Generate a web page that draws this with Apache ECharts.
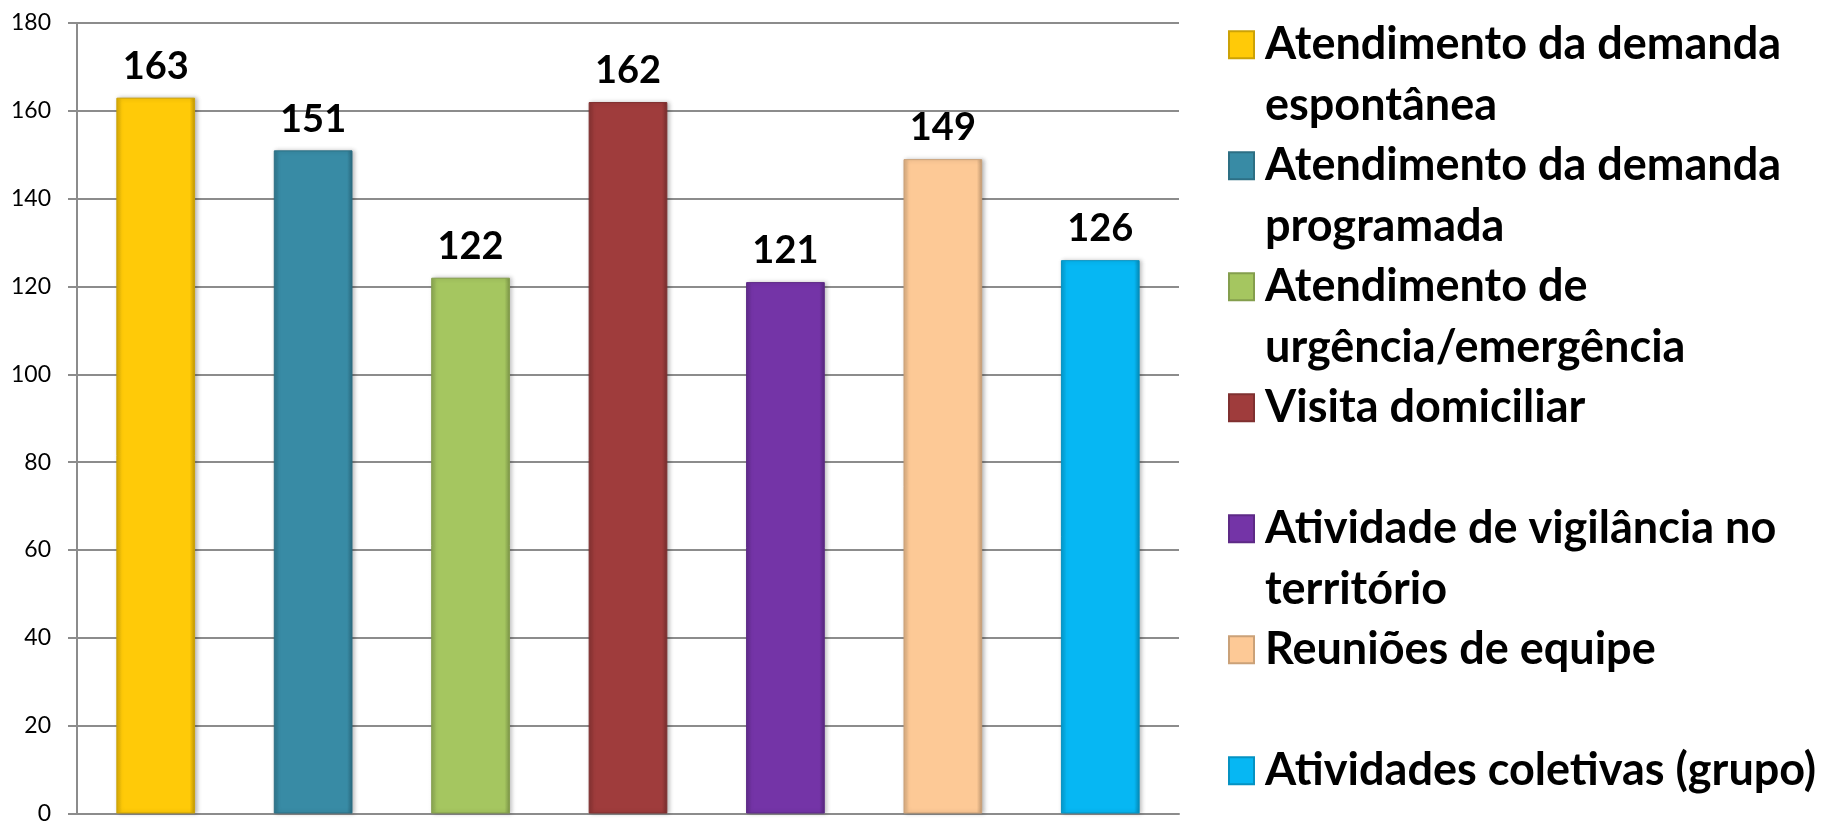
<!DOCTYPE html>
<html>
<head>
<meta charset="utf-8">
<script src="https://cdn.jsdelivr.net/npm/echarts@6/dist/echarts.min.js"></script>
<style>
html,body{margin:0;padding:0;background:#fff;}
#chart{width:1821px;height:825px;}
</style>
</head>
<body>
<div id="chart"></div>
<script>
const categories = [
  'Atendimento da demanda espontânea',
  'Atendimento da demanda programada',
  'Atendimento de urgência/emergência',
  'Visita domiciliar',
  'Atividade de vigilância no território',
  'Reuniões de equipe',
  'Atividades coletivas (grupo)'
];
// legend text as wrapped in the original (two text lines per entry)
const legendLabels = [
  'Atendimento da demanda\nespontânea',
  'Atendimento da demanda\nprogramada',
  'Atendimento de\nurgência/emergência',
  'Visita domiciliar\n ',
  'Atividade de vigilância no\nterritório',
  'Reuniões de equipe\n ',
  'Atividades coletivas (grupo)\n '
];
const values = [163, 151, 122, 162, 121, 149, 126];
const colors = ['#FFCA08', '#388BA5', '#A5C660', '#9F3C3C', '#7434A7', '#FDC996', '#06B7F3'];
const yTicks = { min: 0, max: 180, interval: 20 };

function shade(hex, f) {
  const n = parseInt(hex.slice(1), 16);
  const r = Math.round(((n >> 16) & 255) * f), g = Math.round(((n >> 8) & 255) * f), b = Math.round((n & 255) * f);
  return 'rgb(' + Math.min(255, r) + ',' + Math.min(255, g) + ',' + Math.min(255, b) + ')';
}

const FONT = 'Lato';

const series = categories.map((name, i) => ({
  name: name,
  type: 'bar',
  stack: 'all',
  barWidth: '50%',
  data: categories.map((c, j) => (j === i ? values[i] : '-')),
  itemStyle: {
    color: new echarts.graphic.LinearGradient(0, 0, 1, 0, [
      { offset: 0, color: shade(colors[i], 0.85) },
      { offset: 0.07, color: colors[i] },
      { offset: 0.93, color: colors[i] },
      { offset: 1, color: shade(colors[i], 0.75) }
    ]),
    borderColor: shade(colors[i], 0.8),
    borderWidth: 1,
    shadowColor: 'rgba(0,0,0,0.25)',
    shadowBlur: 4,
    shadowOffsetX: 2,
    shadowOffsetY: 0
  },
  label: {
    show: true,
    position: 'top',
    distance: 12,
    color: '#000',
    fontFamily: FONT,
    fontWeight: 'bold',
    fontSize: 38
  }
}));

const chart = echarts.init(document.getElementById('chart'), null, { renderer: 'canvas' });
chart.setOption({
  animation: false,
  backgroundColor: '#fff',
  grid: { left: 77, right: 642, top: 23, bottom: 5, containLabel: false },
  xAxis: {
    type: 'category',
    data: categories,
    axisLine: { show: true, lineStyle: { color: '#8c8c8c', width: 2 } },
    axisTick: { show: false },
    axisLabel: { show: false },
    splitLine: { show: false }
  },
  yAxis: {
    type: 'value',
    min: yTicks.min,
    max: yTicks.max,
    interval: yTicks.interval,
    axisLine: { show: true, lineStyle: { color: '#8c8c8c', width: 2 } },
    axisTick: { show: true, length: 9, lineStyle: { color: '#8c8c8c', width: 2 } },
    axisLabel: { color: '#000', fontFamily: FONT, fontSize: 23, margin: 26 },
    splitLine: { show: true, lineStyle: { color: '#8c8c8c', width: 2 } }
  },
  legend: {
    type: 'plain',
    orient: 'vertical',
    left: 1228,
    top: -46,
    height: 1200,
    padding: 0,
    itemGap: -60.5,
    itemWidth: 25,
    itemHeight: 27,
    icon: 'rect',
    selectedMode: false,
    formatter: function (name) { return ' \n' + legendLabels[categories.indexOf(name)]; },
    textStyle: {
      color: '#000',
      fontFamily: FONT,
      fontWeight: 'bold',
      fontSize: 45,
      lineHeight: 60.5,
      padding: [0, 0, 0, 6]
    },
    data: categories
  },
  series: series
});
</script>
</body>
</html>
